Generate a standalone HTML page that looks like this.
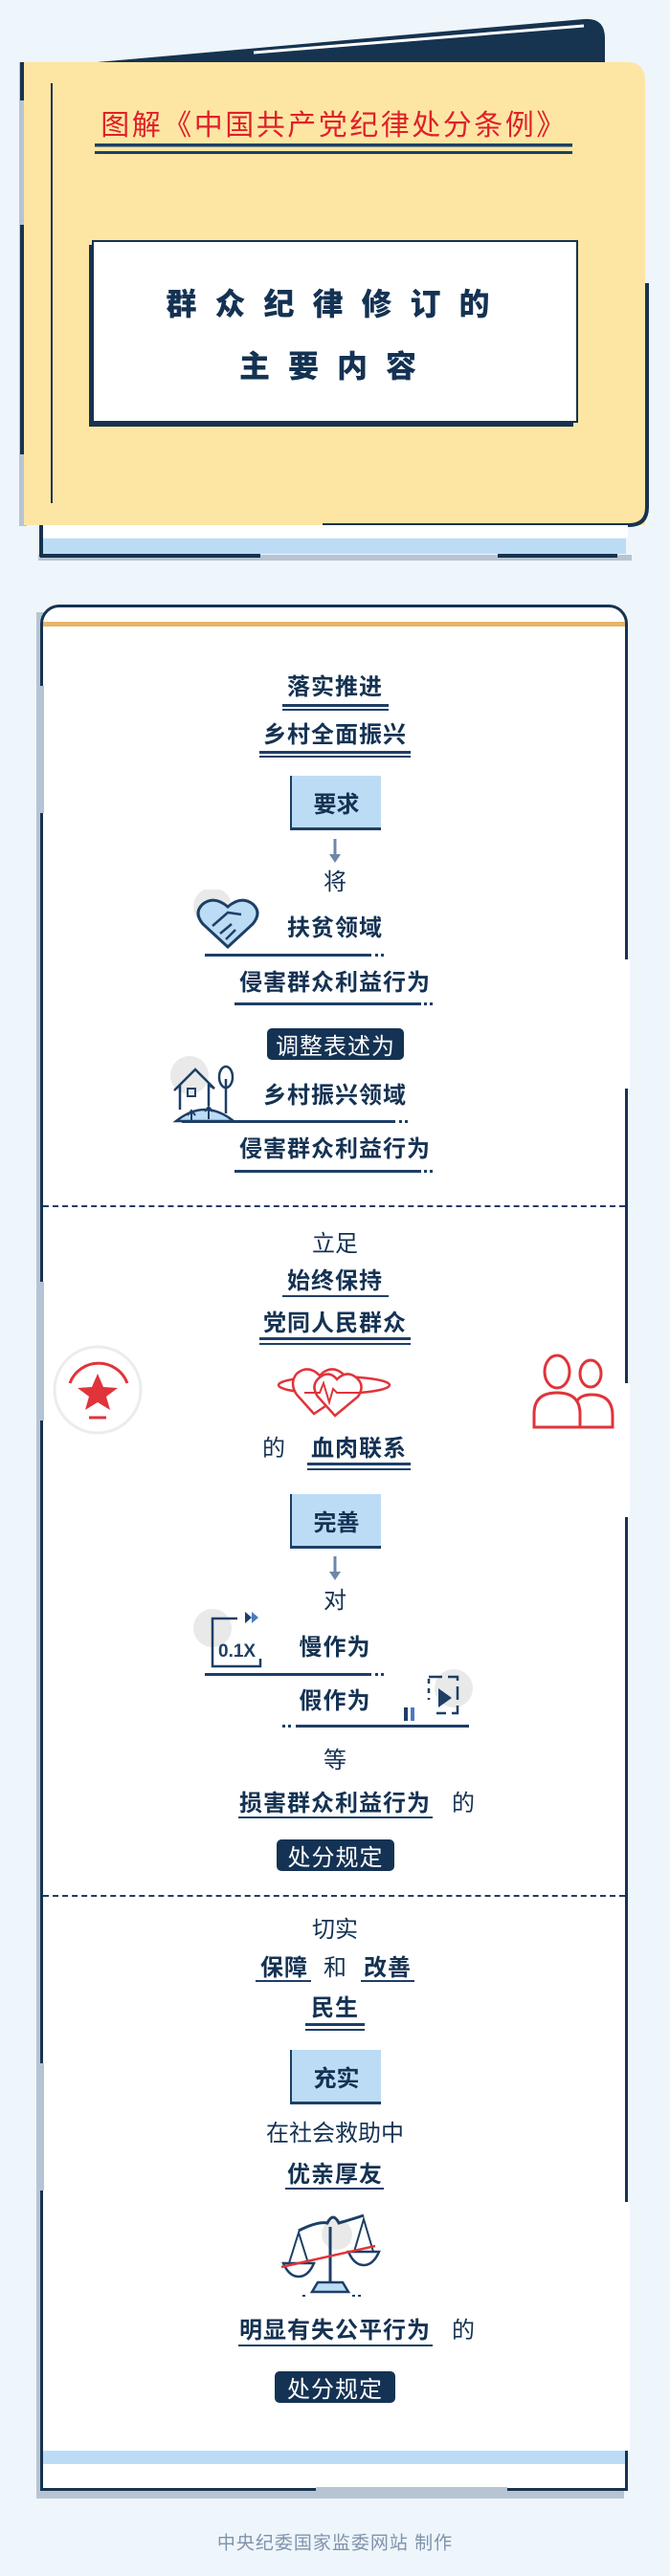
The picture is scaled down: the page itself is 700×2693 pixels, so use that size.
<!DOCTYPE html>
<html><head><meta charset="utf-8">
<style>
html,body{margin:0;padding:0}
body{width:700px;height:2693px;position:relative;background:#eef5fb;overflow:hidden;font-family:"Liberation Sans","Noto Sans CJK SC",sans-serif;color:#143253}
.a{position:absolute}
.t{position:absolute;transform:translate(-50%,-50%);white-space:nowrap;font-size:24px;line-height:1}
.b{font-weight:bold;letter-spacing:1px}
.r{font-weight:normal}
.ln{position:absolute;background:#1d3f66;height:3px}
.box{position:absolute;width:95px;height:54px;background:#bcdcf6;border-left:2px solid #1d3f66;box-shadow:0 3px 0 #1d3f66;display:flex;align-items:center;justify-content:center;font-weight:bold;font-size:24px;box-sizing:border-box}
.dk{position:absolute;background:#143253;color:#fff;border-radius:5px;display:flex;align-items:center;justify-content:center;font-size:24px;letter-spacing:1px}
.dots{position:absolute;height:3px;width:12px;background:repeating-linear-gradient(90deg,#1d3f66 0 3px,transparent 3px 6px)}
</style></head><body>

<!-- header book -->
<svg class="a" style="left:0;top:0" width="700" height="600">
 <path d="M22,72 L610,20 Q632,18 632,40 L632,80 L22,80 Z" fill="#163350"/>
 <line x1="265" y1="55" x2="610" y2="27" stroke="#fff" stroke-width="3"/>
 <rect x="20" y="65" width="8" height="485" fill="#b7c4d3"/>
 <rect x="21" y="65" width="4" height="40" fill="#163350"/>
 <rect x="21" y="235" width="4" height="240" fill="#163350"/>
 <path d="M25,65 L655,65 Q674,65 674,85 L674,549 L25,549 Z" fill="#fde6a3"/>
 <path d="M676,296 L676,530 Q676,549 657,549 L337,549" fill="none" stroke="#163350" stroke-width="4"/>
 <line x1="54" y1="87" x2="54" y2="526" stroke="#163350" stroke-width="2"/>
 <rect x="44" y="549" width="612" height="13" fill="#fff"/>
 <rect x="44" y="563" width="610" height="16" fill="#bcdcf6"/>
 <rect x="40" y="580" width="620" height="6" fill="#b7c4d3"/>
 <line x1="43" y1="549" x2="43" y2="582" stroke="#163350" stroke-width="4"/>
 <line x1="42" y1="581" x2="272" y2="581" stroke="#163350" stroke-width="4"/>
 <line x1="520" y1="581" x2="645" y2="581" stroke="#163350" stroke-width="4"/>
 <rect x="99" y="150" width="499" height="3.5" fill="#1d3f66"/>
 <rect x="99" y="158" width="499" height="3" fill="#1d3f66"/>
 <rect x="93" y="256" width="506" height="190" fill="#163350"/>
 <rect x="97" y="252" width="506" height="189" fill="#fff" stroke="#163350" stroke-width="2"/>
</svg>
<div class="t" style="left:349px;top:132px;font-size:30px;color:#e0202a;letter-spacing:2.5px">图解《中国共产党纪律处分条例》</div>
<div class="t b" style="left:352px;top:318px;font-size:32px;letter-spacing:19px;font-weight:900">群众纪律修订的</div>
<div class="t b" style="left:352px;top:383px;font-size:32px;letter-spacing:19px;font-weight:900">主要内容</div>

<!-- card -->
<div class="a" style="left:38px;top:640px;width:614px;height:1972px;background:#b7c4d3"></div>
<div class="a" style="left:42px;top:632px;width:614px;height:1972px;background:#fff;border:3px solid #163350;border-radius:20px 20px 0 0;box-sizing:border-box"></div>
<div class="a" style="left:45px;top:650px;width:608px;height:5px;background:#e8b46a"></div>
<div class="a" style="left:41px;top:717px;width:5px;height:133px;background:#b4c4d6"></div>
<div class="a" style="left:41px;top:1340px;width:5px;height:145px;background:#b4c4d6"></div>
<div class="a" style="left:41px;top:2157px;width:5px;height:133px;background:#b4c4d6"></div>
<div class="a" style="left:652px;top:1003px;width:6px;height:135px;background:#fff"></div>
<div class="a" style="left:652px;top:1446px;width:6px;height:140px;background:#fff"></div>
<div class="a" style="left:652px;top:2302px;width:6px;height:260px;background:#fff"></div>
<div class="a" style="left:45px;top:2562px;width:608px;height:14px;background:#bcdcf6"></div>
<div class="a" style="left:330px;top:2600px;width:200px;height:5px;background:#b7c4d3"></div>
<div class="a" style="left:45px;top:1260px;width:608px;height:0;border-top:2px dashed #1d3f66"></div>
<div class="a" style="left:45px;top:1981px;width:608px;height:0;border-top:2px dashed #1d3f66"></div>

<!-- section 1 -->
<div class="t b" style="left:350px;top:719px">落实推进</div>
<div class="ln" style="left:295px;top:736px;width:111px"></div><div class="ln" style="left:295px;top:741px;width:111px;height:2px"></div>
<div class="t b" style="left:350px;top:769px">乡村全面振兴</div>
<div class="ln" style="left:271px;top:785px;width:158px"></div><div class="ln" style="left:271px;top:790px;width:158px;height:2px"></div>
<div class="box" style="left:303px;top:811px">要求</div>
<svg class="a" style="left:340px;top:875px" width="20" height="30"><line x1="10" y1="2" x2="10" y2="20" stroke="#6f87a8" stroke-width="3"/><polygon points="4,18 16,18 10,27" fill="#6f87a8"/></svg>
<div class="t r" style="left:350px;top:923px">将</div>
<svg class="a" style="left:200px;top:930px" width="82" height="66">
 <circle cx="22" cy="18" r="20" fill="#e9e9e9"/>
 <path d="M38,60 L12,36 Q2,24 12,15 Q24,6 38,18 Q52,6 64,15 Q74,24 64,36 Z" fill="#bcdcf6" stroke="#1d3f66" stroke-width="3"/>
 <path d="M22,38 L38,24 L52,26 M30,46 L42,36 M36,52 L46,42" stroke="#1d3f66" stroke-width="2.5" fill="none"/>
</svg>
<div class="t b" style="left:350px;top:971px">扶贫领域</div>
<div class="ln" style="left:214px;top:997px;width:174px"></div><div class="dots" style="left:392px;top:997px"></div>
<div class="t b" style="left:350px;top:1028px">侵害群众利益行为</div>
<div class="ln" style="left:245px;top:1048px;width:195px"></div><div class="dots" style="left:443px;top:1048px"></div>
<div class="dk" style="left:279px;top:1075px;width:143px;height:33px">调整表述为</div>
<svg class="a" style="left:174px;top:1104px" width="80" height="72">
 <circle cx="24" cy="20" r="20" fill="#e9e9e9"/>
 <path d="M10,68 Q40,44 70,68 Z" fill="#bcdcf6" stroke="#1d3f66" stroke-width="2.5"/>
 <path d="M14,56 L14,30 L8,36 L30,14 L50,34 L44,30 L44,52" fill="none" stroke="#1d3f66" stroke-width="2.5"/>
 <rect x="22" y="34" width="8" height="8" fill="none" stroke="#1d3f66" stroke-width="2"/>
 <ellipse cx="62" cy="22" rx="7" ry="11" fill="#fff" stroke="#1d3f66" stroke-width="2.5"/>
 <line x1="62" y1="24" x2="62" y2="60" stroke="#1d3f66" stroke-width="2.5"/>
 <path d="M26,68 L26,58 M22,62 L26,57 L30,62 M44,66 L44,54 M40,58 L44,53 L48,58" stroke="#1d3f66" stroke-width="2" fill="none"/>
</svg>
<div class="t b" style="left:350px;top:1146px">乡村振兴领域</div>
<div class="ln" style="left:190px;top:1171px;width:223px"></div><div class="dots" style="left:417px;top:1171px"></div>
<div class="t b" style="left:350px;top:1202px">侵害群众利益行为</div>
<div class="ln" style="left:245px;top:1223px;width:195px"></div><div class="dots" style="left:443px;top:1223px"></div>

<!-- section 2 -->
<div class="t r" style="left:350px;top:1301px">立足</div>
<div class="t b" style="left:350px;top:1340px">始终保持</div>
<div class="ln" style="left:295px;top:1354px;width:111px;height:2px"></div>
<div class="t b" style="left:350px;top:1384px">党同人民群众</div>
<div class="ln" style="left:271px;top:1398px;width:158px"></div><div class="ln" style="left:271px;top:1404px;width:158px;height:2px"></div>
<svg class="a" style="left:55px;top:1406px" width="96" height="96">
 <circle cx="47" cy="47" r="45" fill="#fff" stroke="#ececec" stroke-width="3"/>
 <path d="M18,40 A32,32 0 0 1 78,40" fill="none" stroke="#e0343a" stroke-width="3"/>
 <polygon points="47,30 53,44 68,45 56,54 60,68 47,60 34,68 38,54 26,45 41,44" fill="#e0343a"/>
 <line x1="38" y1="76" x2="56" y2="76" stroke="#e0343a" stroke-width="3"/>
</svg>
<svg class="a" style="left:554px;top:1412px" width="92" height="84">
 <ellipse cx="28" cy="22" rx="13" ry="17" fill="#fff" stroke="#e0343a" stroke-width="3"/>
 <ellipse cx="63" cy="24" rx="11" ry="14" fill="#fff" stroke="#e0343a" stroke-width="3"/>
 <path d="M50,80 L86,80 L86,68 Q86,46 64,46 Q52,46 48,54" fill="#fff" stroke="#e0343a" stroke-width="3"/>
 <path d="M4,80 L52,80 L52,66 Q52,44 28,44 Q4,44 4,66 Z" fill="#fff" stroke="#e0343a" stroke-width="3"/>
</svg>
<svg class="a" style="left:288px;top:1426px" width="122" height="60">
 <ellipse cx="61" cy="22" rx="58" ry="9" fill="none" stroke="#e0343a" stroke-width="2.5"/>
 <path d="M40,52 L22,32 Q14,20 22,10 Q34,0 46,12 Q58,0 70,10 Q78,20 70,32 Z" fill="#fff" stroke="#e0343a" stroke-width="2.5"/>
 <path d="M62,54 L44,34 Q36,22 46,14 Q56,6 64,16 Q74,6 84,14 Q94,22 86,34 Z" fill="#fff" stroke="#e0343a" stroke-width="2.5"/>
 <path d="M30,30 L46,30 L50,20 L56,40 L60,26 L64,30 L88,30" fill="none" stroke="#e0343a" stroke-width="2"/>
</svg>
<div class="t r" style="left:286px;top:1515px">的</div>
<div class="t b" style="left:375px;top:1515px">血肉联系</div>
<div class="ln" style="left:321px;top:1529px;width:108px"></div><div class="ln" style="left:321px;top:1535px;width:108px;height:2px"></div>
<div class="box" style="left:303px;top:1562px">完善</div>
<svg class="a" style="left:340px;top:1625px" width="20" height="30"><line x1="10" y1="2" x2="10" y2="20" stroke="#6f87a8" stroke-width="3"/><polygon points="4,18 16,18 10,27" fill="#6f87a8"/></svg>
<div class="t r" style="left:350px;top:1674px">对</div>
<svg class="a" style="left:200px;top:1680px" width="80" height="68">
 <circle cx="22" cy="22" r="20" fill="#e9e9e9"/>
 <path d="M48,12 L22,12 L22,62 L72,62 L72,54" fill="none" stroke="#1d3f66" stroke-width="2.5"/>
 <text x="28" y="52" font-family="Liberation Sans,sans-serif" font-size="19" font-weight="bold" fill="#1d3f66">0.1X</text>
 <polygon points="56,5 56,17 63,11" fill="#1d3f66"/><polygon points="63,5 63,17 70,11" fill="#4a7bbf"/>
</svg>
<div class="t b" style="left:350px;top:1723px">慢作为</div>
<div class="ln" style="left:214px;top:1749px;width:174px"></div><div class="dots" style="left:392px;top:1749px"></div>
<div class="t b" style="left:350px;top:1779px">假作为</div>
<svg class="a" style="left:416px;top:1743px" width="82" height="60">
 <circle cx="58" cy="22" r="20" fill="#e9e9e9"/>
 <path d="M32,10 L62,10 L62,48 L40,48" fill="none" stroke="#1d3f66" stroke-width="2.5" stroke-dasharray="14,6"/>
 <line x1="32" y1="12" x2="32" y2="34" stroke="#1d3f66" stroke-width="2.5" stroke-dasharray="5,5"/>
 <polygon points="42,22 42,42 56,32" fill="#1d3f66"/>
 <rect x="6" y="42" width="4" height="14" fill="#1d3f66"/><rect x="13" y="42" width="4" height="14" fill="#4a7bbf"/>
</svg>
<div class="dots" style="left:295px;top:1803px;width:10px"></div><div class="ln" style="left:309px;top:1803px;width:181px"></div>
<div class="t r" style="left:350px;top:1841px">等</div>
<div class="t b" style="left:350px;top:1886px">损害群众利益行为</div>
<div class="t r" style="left:484px;top:1886px">的</div>
<div class="ln" style="left:249px;top:1899px;width:203px;height:2px"></div>
<div class="dk" style="left:289px;top:1923px;width:123px;height:33px">处分规定</div>

<!-- section 3 -->
<div class="t r" style="left:350px;top:2018px">切实</div>
<div class="t b" style="left:297px;top:2058px">保障</div>
<div class="t r" style="left:350px;top:2058px">和</div>
<div class="t b" style="left:405px;top:2058px">改善</div>
<div class="ln" style="left:267px;top:2070px;width:58px;height:2px"></div>
<div class="ln" style="left:377px;top:2070px;width:56px;height:2px"></div>
<div class="t b" style="left:350px;top:2100px">民生</div>
<div class="ln" style="left:319px;top:2115px;width:62px"></div><div class="ln" style="left:319px;top:2121px;width:62px;height:2px"></div>
<div class="box" style="left:303px;top:2143px">充实</div>
<div class="t r" style="left:350px;top:2231px">在社会救助中</div>
<div class="t b" style="left:350px;top:2274px">优亲厚友</div>
<div class="ln" style="left:298px;top:2287px;width:103px;height:2px"></div>
<svg class="a" style="left:292px;top:2308px" width="106" height="98">
 <circle cx="60" cy="28" r="16" fill="#e9e9e9"/>
 <path d="M20,24 Q40,14 50,16 Q56,4 62,16 Q76,12 88,8" fill="none" stroke="#1d3f66" stroke-width="3"/>
 <path d="M10,58 L20,26 L30,58 M78,46 L88,12 L98,46" fill="none" stroke="#1d3f66" stroke-width="2"/>
 <path d="M4,58 L36,58 Q30,72 20,72 Q10,72 4,58 Z" fill="#fff" stroke="#1d3f66" stroke-width="2.5"/>
 <path d="M72,46 L104,46 Q98,60 88,60 Q78,60 72,46 Z" fill="#fff" stroke="#1d3f66" stroke-width="2.5"/>
 <line x1="53" y1="20" x2="53" y2="78" stroke="#1d3f66" stroke-width="3"/>
 <path d="M34,88 L72,88 L66,78 L40,78 Z" fill="#bcdcf6" stroke="#1d3f66" stroke-width="2.5"/>
 <line x1="2" y1="62" x2="100" y2="40" stroke="#e0343a" stroke-width="2.5"/>
 <path d="M24,92 L30,92 M76,92 L86,92" stroke="#1d3f66" stroke-width="2" stroke-dasharray="3,3"/>
</svg>
<div class="t b" style="left:350px;top:2437px">明显有失公平行为</div>
<div class="t r" style="left:484px;top:2437px">的</div>
<div class="ln" style="left:249px;top:2451px;width:203px;height:2px"></div>
<div class="dk" style="left:287px;top:2479px;width:126px;height:33px">处分规定</div>

<div class="t" style="left:350px;top:2659px;font-size:19px;color:#7f93ad;letter-spacing:1px">中央纪委国家监委网站 制作</div>
</body></html>
